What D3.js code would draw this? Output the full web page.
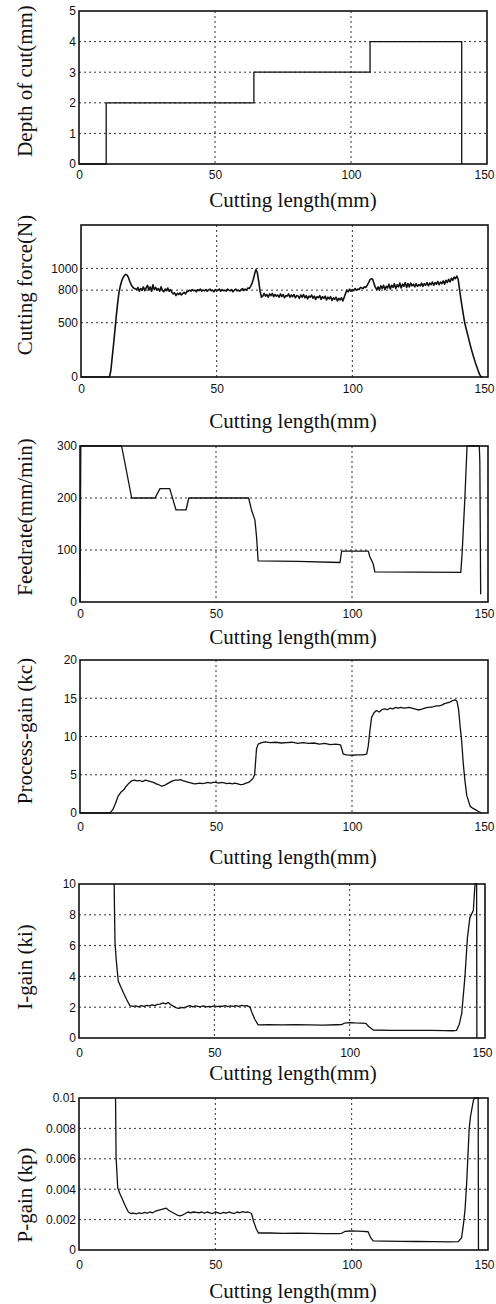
<!DOCTYPE html>
<html>
<head>
<meta charset="utf-8">
<script src="https://cdn.jsdelivr.net/npm/d3@7"></script>
<style>
  body { margin: 0; background: #fff; }
</style>
</head>
<body>
<div id="chart"></div>
<script>
// values, x = cutting length (mm)
const xTicks = [0, 50, 100, 150]

const depthPts = [[0, 0], [10, 0], [10, 2], [64.3, 2], [64.3, 3], [107, 3], [107, 4], [140.7, 4], [140.7, 0]]
const depthTicks = [0, 1, 2, 3, 4, 5]

// cutting force, sampled every 0.5 mm from each run's start
const forceStep = 0.5
const forceRuns = [
  {from: 0, values: [0, 0]},
  {from: 10.5, values: [0, 60, 180, 300, 430, 560, 680, 780, 840, 885, 915, 935, 945, 938, 915, 880, 850, 830, 818, 812]},
  {from: 20.5, values: [805, 825, 790, 815, 800, 830, 795, 820, 845, 800, 830, 790, 850, 805, 825, 800]},
  {from: 28.5, values: [815, 790, 830, 800, 785, 810, 795, 820, 790, 805]},
  {from: 33.5, values: [780, 765, 775, 750, 770, 760, 775, 755, 770, 780, 765, 785, 790]},
  {from: 40, values: [800, 790, 805, 795, 800, 785, 805, 795, 810, 790, 800, 795, 805, 790, 800, 810, 795, 800, 785, 805,
                      795, 800, 810, 790, 805, 795, 800, 790, 810, 800, 795, 805, 785, 800, 810, 795, 800, 790, 805, 815,
                      795, 810, 800, 820, 815]},
  {from: 62.5, values: [835, 860, 900, 950, 990, 960, 880, 790, 735, 745]},
  {from: 67.5, values: [770, 745, 760, 735, 765, 750, 770, 740, 760, 745, 755, 735, 765, 740, 760, 730, 750, 745, 765, 735,
                        755, 740, 760, 730, 750, 745, 725, 755, 735, 760, 730, 750, 720, 745, 735, 755, 725, 745, 715, 740,
                        730, 750, 715, 740, 725, 745, 710, 735, 720, 740, 705, 730, 715, 735, 700, 725, 710, 730, 700, 735]},
  {from: 97.5, values: [770, 800, 785, 810, 790, 805, 795, 815, 800, 810, 805, 825, 820, 815, 830, 825, 845, 870, 895, 905,
                        900, 860, 825, 805]},
  {from: 109.5, values: [830, 800, 840, 815, 845, 805, 835, 820, 855, 810, 845, 825, 860, 815, 850, 830, 865, 820, 855, 835,
                         870, 825, 860, 830, 865, 840, 855, 830, 860, 835, 850, 840, 865, 835, 860, 845, 870, 840, 865, 850,
                         875, 845, 870, 855, 880, 850, 875, 860, 885, 855, 890, 870, 900, 875, 910, 890, 920, 905]},
  {from: 138.5, values: [930, 900, 810, 720, 640, 560, 490, 440, 390, 340, 290, 245, 200, 160, 120, 85, 50, 20, 0, 0]}
]
const forceTicks = [0, 500, 800, 1000]

const feedPts = [[0, 0], [0.3, 300], [15.3, 300], [19, 200], [27.6, 200], [29.4, 218], [33, 218], [35.3, 177], [39, 177],
  [40, 200], [62, 200], [63, 178], [64.3, 158], [64.9, 126], [65.5, 79], [80, 78], [95.6, 76], [95.9, 88], [96.2, 98],
  [106, 98], [106.5, 88], [107.8, 73], [108.4, 58], [140, 57], [140.5, 95], [141.5, 200], [142.3, 300], [146.8, 300],
  [147, 270], [147.3, 15]]
const feedTicks = [0, 100, 200, 300]

const kcPts = [[0, 0], [11, 0], [12, 0.4], [13, 1.2], [14, 2.2], [15, 2.7], [16, 3.0], [17, 3.5], [18, 3.9], [19, 4.2],
  [20, 4.3], [21, 4.2], [22, 4.25], [23, 4.1], [24, 4.3], [25, 4.2], [26, 4.1], [27, 4.0], [28, 3.8], [29, 3.7], [30, 3.5],
  [31, 3.6], [32, 3.8], [33, 4.0], [34, 4.2], [35, 4.3], [36, 4.3], [37, 4.35], [38, 4.2], [39, 4.1], [40, 4.0], [41, 3.9],
  [42, 3.8], [43, 3.85], [44, 3.9], [45, 3.85], [46, 3.9], [47, 4.0], [48, 3.9], [49, 4.0], [50, 4.0], [51, 3.9], [52, 4.0],
  [53, 3.95], [54, 3.85], [55, 3.9], [56, 3.8], [57, 3.9], [58, 3.8], [59, 3.7], [60, 3.75], [61, 3.9], [62, 4.0], [63, 4.3],
  [63.7, 4.6], [64.2, 5.0], [64.9, 8.4], [65.5, 9.0], [66.8, 9.2], [68, 9.3], [70, 9.2], [72, 9.25], [74, 9.15], [76, 9.2],
  [78, 9.25], [80, 9.1], [82, 9.2], [84, 9.1], [86, 9.15], [88, 9.0], [90, 9.1], [92, 8.95], [94, 9.0], [95.8, 8.9],
  [96.3, 8.3], [96.8, 7.7], [98, 7.6], [100, 7.55], [102, 7.6], [104, 7.6], [105.4, 7.7], [106, 8.8], [106.6, 10.8],
  [107.2, 12.5], [108.1, 13.1], [109, 13.4], [110, 13.2], [111, 13.5], [112, 13.6], [113, 13.5], [114, 13.7], [115, 13.6],
  [116, 13.8], [117, 13.7], [118, 13.8], [119, 13.7], [120, 13.75], [121, 13.8], [122, 13.7], [123, 13.6], [124, 13.5],
  [125, 13.5], [126, 13.6], [127, 13.75], [128, 13.8], [129, 13.85], [130, 13.9], [131, 14.0], [132, 14.0], [133, 14.1],
  [134, 14.3], [135, 14.4], [136, 14.5], [137, 14.7], [137.9, 14.8], [138.6, 14.6], [139.2, 13.5], [139.7, 11.5],
  [140.3, 9.5], [140.9, 6.5], [141.5, 4.3], [142.2, 2.3], [143.4, 0.9], [144.5, 0.6], [145.5, 0.4], [146.5, 0.2], [147.7, 0]]
const kcTicks = [0, 5, 10, 15, 20]

const kiPts = [[13, 10], [13.1, 8.5], [13.3, 6.2], [13.8, 5.0], [14.5, 3.7], [15.5, 3.3], [16.5, 2.9], [17.6, 2.5],
  [18.8, 2.1], [20, 2.05], [21, 2.08], [22, 2.02], [23, 2.1], [24, 2.05], [25, 2.12], [26, 2.08], [27, 2.15], [28, 2.1],
  [29, 2.18], [30, 2.2], [31, 2.28], [32, 2.22], [33, 2.3], [34, 2.15], [35, 2.05], [36, 1.95], [37, 1.92], [38, 1.98],
  [39, 1.95], [40, 2.05], [41, 2.1], [42, 2.02], [43, 2.08], [44, 2.05], [45, 2.03], [46, 2.08], [47, 2.02], [48, 2.06],
  [49, 2.04], [50, 2.08], [51, 2.03], [52, 2.07], [53, 2.05], [54, 2.1], [55, 2.04], [56, 2.08], [57, 2.05], [58, 2.1],
  [59, 2.06], [60, 2.12], [61, 2.08], [62, 2.1], [63.2, 2.0], [64, 1.6], [65, 1.2], [66.2, 0.85], [70, 0.86], [75, 0.85],
  [80, 0.86], [85, 0.85], [90, 0.84], [95, 0.86], [97, 0.87], [98, 0.96], [100, 1.0], [102, 0.98], [104, 0.97], [106, 0.95],
  [107, 0.75], [108.7, 0.52], [115, 0.5], [120, 0.5], [125, 0.5], [130, 0.49], [135, 0.48], [138, 0.47], [139.5, 0.5],
  [140.5, 0.9], [141.4, 1.6], [142, 2.8], [142.6, 4.0], [143.5, 6.5], [144.4, 7.8], [145.7, 8.3], [146.3, 10], [146.9, 10],
  [147, 0]]
const kiTicks = [0, 2, 4, 6, 8, 10]

const kpPts = [[13.4, 0.01], [13.5, 0.008], [13.6, 0.0061], [14.2, 0.0041], [15, 0.0037], [16, 0.0033], [17, 0.0029],
  [18.1, 0.0025], [19, 0.0024], [20, 0.00242], [21, 0.00238], [22, 0.00245], [23, 0.0024], [24, 0.00248], [25, 0.00242],
  [26, 0.0025], [27, 0.00245], [28, 0.00255], [29, 0.0026], [30, 0.00265], [31, 0.0027], [32, 0.00275], [33, 0.0026],
  [34, 0.0025], [35, 0.0024], [36, 0.0023], [37, 0.00225], [38, 0.0023], [39, 0.0024], [40, 0.0025], [41, 0.00245],
  [42, 0.0025], [43, 0.00248], [44, 0.00245], [45, 0.0025], [46, 0.00243], [47, 0.0025], [48, 0.00245], [49, 0.0024],
  [50, 0.0025], [51, 0.00245], [52, 0.0024], [53, 0.00248], [54, 0.00242], [55, 0.0025], [56, 0.00245], [57, 0.0024],
  [58, 0.0025], [59, 0.00245], [60, 0.00252], [61, 0.00248], [62, 0.0025], [63.3, 0.0024], [64, 0.0019], [65, 0.0014],
  [65.8, 0.00112], [70, 0.00112], [75, 0.0011], [80, 0.00111], [85, 0.0011], [90, 0.00108], [95, 0.00108], [96.3, 0.0011],
  [97.5, 0.00122], [100, 0.00125], [102, 0.00124], [104, 0.00123], [106, 0.0012], [107, 0.0008], [107.9, 0.0006],
  [112, 0.00058], [118, 0.00057], [124, 0.00056], [130, 0.00055], [136, 0.00054], [139.1, 0.00055], [140.3, 0.0008],
  [141, 0.0017], [141.6, 0.0027], [142.2, 0.0045], [143.1, 0.008], [143.6, 0.0088], [144.6, 0.0098], [145, 0.01],
  [146.4, 0.01], [146.5, 0]]
const kpTicks = [0, 0.002, 0.004, 0.006, 0.008, 0.01]
const kpTickLabels = ["0", "0.002", "0.004", "0.006", "0.008", "0.01"]

const forcePts = forceRuns.flatMap(r => r.values.map((v, i) => [r.from + i * forceStep, v]))

// page layout (pixel boxes of each panel in the scan)
const width = 496, height = 1304
const panels = [
  {label: "Depth of cut(mm)", pts: depthPts, yMax: 5, ticks: depthTicks, box: {l: 79, r: 487, t: 11, b: 164}, labelY: 81, titleY: 207, pad: 6},
  {label: "Cutting force(N)", pts: forcePts, yMax: 1400, ticks: forceTicks, box: {l: 81, r: 488, t: 225, b: 377}, labelY: 285, titleY: 428, pad: 7, lw: 1.6},
  {label: "Feedrate(mm/min)", pts: feedPts, yMax: 300, ticks: feedTicks, box: {l: 80, r: 488, t: 446, b: 602}, labelY: 517, titleY: 644, pad: 7},
  {label: "Process-gain (kc)", pts: kcPts, yMax: 20, ticks: kcTicks, box: {l: 80, r: 488, t: 660, b: 813}, labelY: 731, titleY: 864, pad: 9},
  {label: "I-gain (ki)", pts: kiPts, yMax: 10, ticks: kiTicks, box: {l: 79, r: 485, t: 884, b: 1038}, labelY: 967, titleY: 1080, pad: 10},
  {label: "P-gain (kp)", pts: kpPts, yMax: 0.01, ticks: kpTicks, tickLabels: kpTickLabels, box: {l: 79, r: 488, t: 1098, b: 1250}, labelY: 1195, titleY: 1298, pad: 10}
]

const serif = "'Liberation Serif', 'Times New Roman', serif"
const narrow = "'Liberation Sans Narrow', 'Liberation Sans', sans-serif"

const svg = d3.select("#chart").append("svg")
  .attr("width", width)
  .attr("height", height)
  .attr("viewBox", [0, 0, width, height])
  .style("background", "#fff")

panels.forEach(p => {
  const b = p.box
  const x = d3.scaleLinear().domain([0, 150]).range([b.l, b.r])
  const y = d3.scaleLinear().domain([0, p.yMax]).range([b.b, b.t])
  const g = svg.append("g")

  // dotted grid
  g.append("g")
    .selectAll("line")
    .data(p.ticks.filter(v => v > 0 && v < p.yMax))
    .join("line")
    .attr("x1", b.l).attr("x2", b.r)
    .attr("y1", d => y(d)).attr("y2", d => y(d))
    .attr("stroke", "#333").attr("stroke-width", 1).attr("stroke-dasharray", "2,3")
  g.append("g")
    .selectAll("line")
    .data(xTicks.filter(v => v > 0 && v < 150))
    .join("line")
    .attr("y1", b.t).attr("y2", b.b)
    .attr("x1", d => x(d)).attr("x2", d => x(d))
    .attr("stroke", "#333").attr("stroke-width", 1).attr("stroke-dasharray", "2,3")

  // axes
  g.append("g")
    .attr("transform", `translate(0,${b.b})`)
    .call(d3.axisBottom(x).tickValues(xTicks).tickSize(0).tickPadding(p.pad).tickFormat(d3.format("d")))
    .call(a => a.select(".domain").remove())
    .call(a => a.selectAll("text").attr("font-family", narrow).attr("font-size", 12).attr("fill", "#111"))
    // last label pulled in so it stays on the page
    .call(a => a.selectAll(".tick:last-of-type text").attr("text-anchor", "end").attr("x", Math.min(7, 494 - b.r)))

  g.append("g")
    .attr("transform", `translate(${b.l},0)`)
    .call(d3.axisLeft(y).tickValues(p.ticks).tickSize(0).tickPadding(3)
      .tickFormat((d, i) => p.tickLabels ? p.tickLabels[i] : d))
    .call(a => a.select(".domain").remove())
    .call(a => a.selectAll("text").attr("font-family", narrow).attr("font-size", 12).attr("fill", "#111"))

  // frame
  g.append("rect")
    .attr("x", b.l).attr("y", b.t)
    .attr("width", b.r - b.l).attr("height", b.b - b.t)
    .attr("fill", "none").attr("stroke", "#111").attr("stroke-width", 1.6)

  // measured curve
  g.append("path")
    .datum(p.pts)
    .attr("fill", "none")
    .attr("stroke", "#111")
    .attr("stroke-width", p.lw || 1.3)
    .attr("stroke-linejoin", "round")
    .attr("d", d3.line().x(d => x(d[0])).y(d => y(d[1])))

  // titles
  g.append("text")
    .attr("transform", `translate(32,${p.labelY}) rotate(-90)`)
    .attr("text-anchor", "middle")
    .attr("font-family", serif).attr("font-size", 21).attr("fill", "#111")
    .text(p.label)

  g.append("text")
    .attr("x", 293).attr("y", p.titleY)
    .attr("text-anchor", "middle")
    .attr("font-family", serif).attr("font-size", 21).attr("fill", "#111")
    .text("Cutting length(mm)")
})
</script>
</body>
</html>
